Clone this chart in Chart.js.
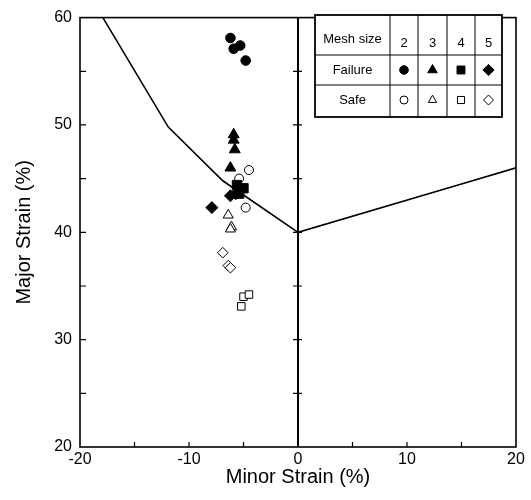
<!DOCTYPE html>
<html>
<head>
<meta charset="utf-8">
<script src="https://cdn.jsdelivr.net/npm/chart.js@4.4.1/dist/chart.umd.min.js"></script>
<style>
  html, body { margin: 0; padding: 0; background: #fff; }
  #wrap { width: 531px; height: 500px; }
</style>
</head>
<body>
<div id="wrap"><canvas id="myChart"></canvas></div>
<script>
/**
 * Data
 */
var meshSizes = ['2', '3', '4', '5'];
var rowLabels = ['Failure', 'Safe'];

// forming limit curve (minor, major)
var flcMinor = [-17.9, -11.9, -6.9, 0, 15, 20];
var flcMajor = [60, 49.8, 44.8, 40, 44.5, 46];

// [minor, major] pairs per mesh size
var fail2 = [[-6.2, 58.1], [-5.9, 57.1], [-5.3, 57.4], [-4.8, 56.0]];
var fail3 = [[-5.9, 49.1], [-5.9, 48.6], [-5.8, 47.7], [-6.2, 46.0]];
var fail4 = [[-5.6, 44.4], [-5.0, 44.1], [-5.4, 43.6]];
var fail5 = [[-6.2, 43.4], [-5.7, 43.6], [-7.9, 42.3]];
var safe2 = [[-4.5, 45.8], [-5.4, 45.0], [-4.8, 42.3]];
var safe3 = [[-6.4, 41.6], [-6.1, 40.5], [-6.2, 40.3]];
var safe4 = [[-5.0, 34.0], [-4.5, 34.2], [-5.2, 33.1]];
var safe5 = [[-6.9, 38.1], [-6.4, 36.9], [-6.2, 36.7]];

var xTicks = [-20, -10, 0, 10, 20];
var yTicks = [20, 30, 40, 50, 60];

var FONT = "'Liberation Sans', Arial, sans-serif";
var styles = ['circle', 'triangle', 'rect', 'rectRot'];
var failRadius = [4.8, 6.3, 6.6, 6];
var safeRadius = [4.5, 5.8, 5.3, 5.3];

function toPts(arr) {
  return arr.map(p => ({ x: p[0], y: p[1] }));
}

function pointSet(label, pts, style, radius, filled) {
  return {
    label: label,
    data: toPts(pts),
    pointStyle: style,
    pointRadius: radius,
    pointHoverRadius: radius,
    pointBackgroundColor: filled ? '#000' : '#fff',
    pointBorderColor: '#000',
    pointBorderWidth: 1,
    showLine: false
  };
}

var failSets = [fail2, fail3, fail4, fail5];
var safeSets = [safe2, safe3, safe4, safe5];
var datasets = [];
failSets.forEach((s, i) => datasets.push(pointSet('Failure ' + meshSizes[i], s, styles[i], failRadius[i], true)));
safeSets.forEach((s, i) => datasets.push(pointSet('Safe ' + meshSizes[i], s, styles[i], safeRadius[i], false)));
datasets.push({
  label: 'FLC',
  data: flcMinor.map((x, i) => ({ x: x, y: flcMajor[i] })),
  showLine: true,
  borderColor: '#000',
  borderWidth: 1.6,
  pointRadius: 0,
  tension: 0,
  fill: false
});

// box, inward ticks and the vertical line at minor strain = 0
const framePlugin = {
  id: 'frame',
  beforeDatasetsDraw(chart) {
    const { ctx, chartArea: a, scales: { x, y } } = chart;
    ctx.save();
    ctx.strokeStyle = '#000';
    ctx.lineWidth = 1.6;
    ctx.strokeRect(a.left, a.top, a.right - a.left, a.bottom - a.top);

    const x0 = x.getPixelForValue(0);
    ctx.lineWidth = 2;
    ctx.beginPath();
    ctx.moveTo(x0, a.top);
    ctx.lineTo(x0, a.bottom);
    ctx.stroke();

    ctx.lineWidth = 1.2;
    ctx.beginPath();
    for (let v = 25; v <= 55; v += 5) {
      const py = y.getPixelForValue(v);
      ctx.moveTo(a.left, py);
      ctx.lineTo(a.left + 6, py);
      ctx.moveTo(x0 - 5, py);
      ctx.lineTo(x0 + 4, py);
    }
    for (let v = -15; v <= 15; v += 5) {
      const px = x.getPixelForValue(v);
      ctx.moveTo(px, a.bottom);
      ctx.lineTo(px, a.bottom - 5);
    }
    ctx.stroke();
    ctx.restore();
  }
};

// legend table in the upper right corner
const tablePlugin = {
  id: 'meshTable',
  afterDraw(chart) {
    const ctx = chart.ctx;
    const cols = [315, 390, 418, 447, 475, 502];
    const rows = [15, 55, 85, 117];
    ctx.save();
    ctx.fillStyle = '#fff';
    ctx.fillRect(cols[0], rows[0], cols[5] - cols[0], rows[3] - rows[0]);
    ctx.strokeStyle = '#000';
    ctx.lineWidth = 1;
    ctx.beginPath();
    for (let i = 1; i < cols.length - 1; i++) {
      ctx.moveTo(cols[i], rows[0]);
      ctx.lineTo(cols[i], rows[3]);
    }
    for (let j = 1; j < rows.length - 1; j++) {
      ctx.moveTo(cols[0], rows[j]);
      ctx.lineTo(cols[5], rows[j]);
    }
    ctx.stroke();
    ctx.lineWidth = 1.8;
    ctx.strokeRect(cols[0], rows[0], cols[5] - cols[0], rows[3] - rows[0]);

    ctx.fillStyle = '#000';
    ctx.textAlign = 'center';
    ctx.textBaseline = 'middle';
    ctx.font = '13px ' + FONT;
    ctx.fillText('Mesh size', (cols[0] + cols[1]) / 2, 39);
    meshSizes.forEach((m, i) => {
      ctx.fillText(m, (cols[i + 1] + cols[i + 2]) / 2, 43);
    });
    ctx.fillText(rowLabels[0], (cols[0] + cols[1]) / 2, 70);
    ctx.fillText(rowLabels[1], (cols[0] + cols[1]) / 2, 100);

    const tFail = [4.3, 5.5, 5.6, 5.6];
    const tSafe = [4, 4.8, 5, 5];
    styles.forEach((st, i) => {
      const cx = (cols[i + 1] + cols[i + 2]) / 2;
      ctx.fillStyle = '#000';
      ctx.strokeStyle = '#000';
      ctx.lineWidth = 1;
      Chart.helpers.drawPoint(ctx, { pointStyle: st, radius: tFail[i], rotation: 0, borderWidth: 1 }, cx, 70);
      ctx.fillStyle = '#fff';
      Chart.helpers.drawPoint(ctx, { pointStyle: st, radius: tSafe[i], rotation: 0, borderWidth: 1 }, cx, 100);
    });
    ctx.restore();
  }
};

const config = {
  type: 'scatter',
  data: { datasets: datasets },
  options: {
    animation: false,
    responsive: true,
    maintainAspectRatio: false,
    layout: { padding: { top: 11, right: 15, left: 0, bottom: 0 } },
    plugins: {
      legend: { display: false },
      tooltip: { enabled: false }
    },
    scales: {
      x: {
        type: 'linear',
        min: xTicks[0],
        max: xTicks[xTicks.length - 1],
        afterBuildTicks: s => { s.ticks = xTicks.map(v => ({ value: v })); },
        ticks: { color: '#000', padding: 3, maxRotation: 0, font: { size: 16, family: FONT } },
        grid: { display: false, drawTicks: false },
        border: { display: false },
        title: {
          display: true,
          text: 'Minor Strain (%)',
          color: '#000',
          font: { size: 20, family: FONT },
          padding: { top: 0, bottom: 11 }
        },
        afterFit: s => { s.height = 53; }
      },
      y: {
        type: 'linear',
        min: yTicks[0],
        max: yTicks[yTicks.length - 1],
        afterBuildTicks: s => { s.ticks = yTicks.map(v => ({ value: v })); },
        ticks: { color: '#000', padding: 8, font: { size: 16, family: FONT } },
        grid: { display: false, drawTicks: false },
        border: { display: false },
        title: {
          display: true,
          text: 'Major Strain (%)',
          color: '#000',
          font: { size: 20, family: FONT },
          padding: { top: 12, bottom: 0 }
        },
        afterFit: s => { s.width = 80; }
      }
    }
  },
  plugins: [framePlugin, tablePlugin]
};

document.addEventListener('DOMContentLoaded', () => {
  myChart = new Chart(document.getElementById('myChart'), config);
});
</script>
</body>
</html>
